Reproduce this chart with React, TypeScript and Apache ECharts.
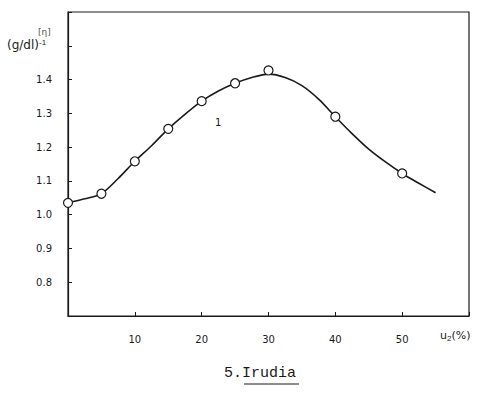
import React, { useEffect, useRef } from "react";
import * as echarts from "echarts";

const xTickLabels = ["10", "20", "30", "40", "50"];
const yTickLabels = ["0.8", "0.9", "1.0", "1.1", "1.2", "1.3", "1.4"];
const pointX = [0, 5, 10, 15, 20, 25, 30, 40, 50];
const pointY = [1.035, 1.062, 1.158, 1.254, 1.336, 1.389, 1.427, 1.29, 1.122];
const curveX = [0, 2.5, 5, 7.5, 10, 12.5, 15, 17.5, 20, 22.5, 25, 27.5, 30, 32.5, 35, 37.5, 40, 42.5, 45, 47.5, 50, 52.5, 55];
const curveY = [1.035, 1.047, 1.062, 1.107, 1.158, 1.204, 1.254, 1.297, 1.336, 1.366, 1.389, 1.406, 1.416, 1.406, 1.382, 1.342, 1.29, 1.24, 1.194, 1.156, 1.122, 1.093, 1.065];

export default function App() {
  const ref = useRef<HTMLDivElement>(null);
  useEffect(() => {
    document.body.style.margin = "0";
    const chart = echarts.init(ref.current!, null, { renderer: "svg" });
    const ink = "#1a1a1a";
    const fmt = (v: number, arr: string[]) => {
      const s = v.toFixed(1);
      return arr.includes(s) ? s : "";
    };
    chart.setOption({
      animation: false,
      backgroundColor: "#ffffff",
      grid: { left: 68, top: 12, right: 11, bottom: 97, show: true, borderColor: ink, borderWidth: 1.2 },
      xAxis: {
        type: "value",
        min: 0,
        max: 60,
        interval: 10,
        axisLine: { show: true, lineStyle: { color: ink, width: 1.2 } },
        axisTick: { show: true, inside: true, length: 4, lineStyle: { color: ink } },
        splitLine: { show: false },
        axisLabel: {
          margin: 18,
          color: ink,
          fontFamily: "DejaVu Sans",
          fontSize: 10,
          formatter: (v: number) => (xTickLabels.includes(String(v)) ? String(v) : ""),
        },
      },
      yAxis: {
        type: "value",
        min: 0.7,
        max: 1.6,
        interval: 0.1,
        axisLine: { show: true, lineStyle: { color: ink, width: 1.2 } },
        axisTick: { show: true, inside: true, length: 4, lineStyle: { color: ink } },
        splitLine: { show: false },
        axisLabel: {
          margin: 16,
          color: ink,
          fontFamily: "DejaVu Sans",
          fontSize: 10,
          formatter: (v: number) => fmt(v, yTickLabels),
        },
      },
      series: [
        {
          type: "line",
          data: curveX.map((x, i) => [x, curveY[i]]),
          smooth: 0.3,
          symbol: "none",
          lineStyle: { color: ink, width: 1.6 },
          z: 2,
        },
        {
          type: "scatter",
          data: pointX.map((x, i) => [x, pointY[i]]),
          symbol: "circle",
          symbolSize: 9,
          itemStyle: { color: "#ffffff", borderColor: ink, borderWidth: 1.2, opacity: 1 },
          z: 3,
        },
      ],
      graphic: [
        { type: "text", left: 38, top: 27, style: { text: "[η]", fontSize: 9, fill: "#555", fontFamily: "DejaVu Sans" } },
        {
          type: "text",
          left: 7,
          top: 38,
          style: {
            text: "(g/dl){s|-1}",
            fontSize: 12,
            fill: ink,
            fontFamily: "DejaVu Sans",
            rich: { s: { fontSize: 8, verticalAlign: "top", padding: [0, 0, 6, 0], fill: ink } },
          },
        },
        { type: "text", left: 215, top: 117, style: { text: "1", fontSize: 10, fill: ink, fontFamily: "DejaVu Sans" } },
        {
          type: "text",
          left: 440,
          top: 330,
          style: {
            text: "u{s|2}(%)",
            fontSize: 11,
            fill: ink,
            fontFamily: "DejaVu Sans",
            rich: { s: { fontSize: 8, padding: [6, 0, 0, 0], fill: ink } },
          },
        },
        { type: "text", left: 224, top: 366, style: { text: "5.Irudia", fontSize: 15, fill: ink, fontFamily: "Liberation Mono" } },
        { type: "line", shape: { x1: 244, y1: 384, x2: 299, y2: 384 }, style: { stroke: ink, lineWidth: 1.2 } },
      ],
    });
    return () => chart.dispose();
  }, []);
  return <div ref={ref} style={{ width: 480, height: 413 }} />;
}
